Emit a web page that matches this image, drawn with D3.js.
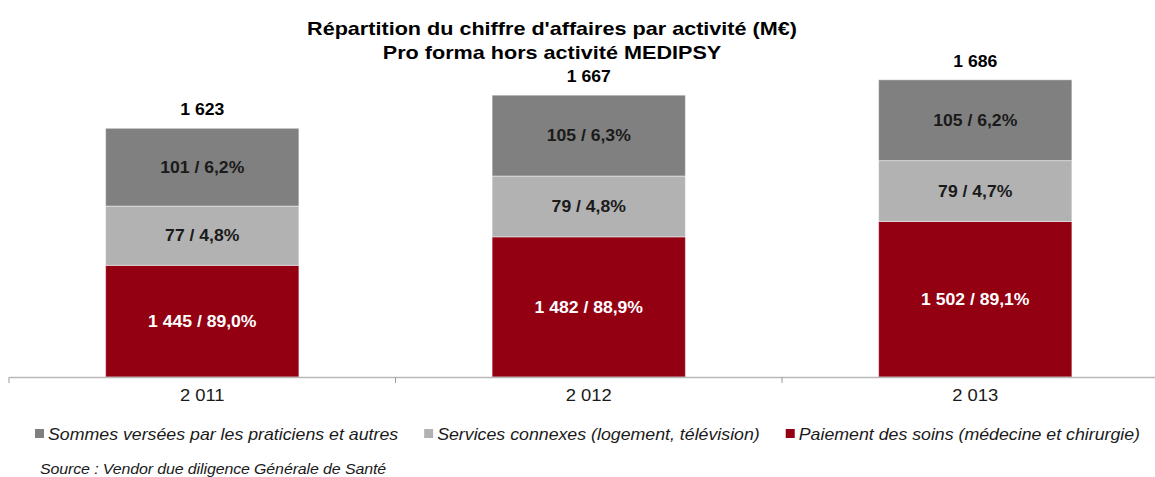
<!DOCTYPE html>
<html>
<head>
<meta charset="utf-8">
<script src="https://cdn.jsdelivr.net/npm/d3@7"></script>
<style>
  body { margin: 0; background: #fff; }
  text { font-family: Arial, "Liberation Sans", sans-serif; }
</style>
</head>
<body>
<div id="chart"></div>
<script>
// chart data
const years = ['2011', '2012', '2013'];
const yearLabels = ['2 011', '2 012', '2 013'];
const soins = [1445, 1482, 1502];
const services = [77, 79, 79];
const sommes = [101, 105, 105];
const totals = [1623, 1667, 1686];
const soinsPct = ['89,0%', '88,9%', '89,1%'];
const servicesPct = ['4,8%', '4,8%', '4,7%'];
const sommesPct = ['6,2%', '6,3%', '6,2%'];
const seriesNames = [
  'Sommes versées par les praticiens et autres',
  'Services connexes (logement, télévision)',
  'Paiement des soins (médecine et chirurgie)'
];

const svgWidth = 1155;
const svgHeight = 477;
const baseY = 377;
const yMin = 1300;

const fr = d3.formatLocale({decimal: ',', thousands: ' ', grouping: [3], currency: ['', '€']});
const fmt = fr.format(',d');

const svg = d3.select('#chart').append('svg')
  .attr('width', svgWidth)
  .attr('height', svgHeight);

// the original text is a bit wider than Arial, stretch it horizontally
const stretched = (sel, px, py, sx) => sel
  .attr('x', 0).attr('y', 0)
  .attr('transform', `translate(${px}, ${py}) scale(${sx}, 1)`);

// title
svg.append('text')
  .call(stretched, 552, 35, 1.2)
  .attr('text-anchor', 'middle')
  .attr('font-weight', 'bold')
  .attr('font-size', '18px')
  .attr('fill', '#000')
  .text("Répartition du chiffre d'affaires par activité (M€)");
svg.append('text')
  .call(stretched, 552, 59, 1.2)
  .attr('text-anchor', 'middle')
  .attr('font-weight', 'bold')
  .attr('font-size', '18px')
  .attr('fill', '#000')
  .text('Pro forma hors activité MEDIPSY');

// scales
const x = d3.scaleBand()
  .domain(years)
  .range([9, 1168.5])
  .paddingInner(0.5)
  .paddingOuter(0.25);

const y = d3.scaleLinear()
  .domain([yMin, 1800])
  .range([baseY, baseY - 500 * 0.77]);

// stacked segments: soins bottom, services, sommes on top
const rows = years.map((yr, i) => ({
  year: yr,
  soins: soins[i],
  services: services[i],
  sommes: sommes[i]
}));
const keys = ['soins', 'services', 'sommes'];
const colors = {soins: '#930011', services: '#b2b2b2', sommes: '#808080'};
const textColors = {soins: '#ffffff', services: '#1a1a1a', sommes: '#1a1a1a'};
const pcts = {soins: soinsPct, services: servicesPct, sommes: sommesPct};

const stacked = d3.stack().keys(keys)(rows);

const barGroup = svg.append('g');
stacked.forEach(layer => {
  const k = layer.key;
  barGroup.selectAll(null)
    .data(layer)
    .enter()
    .append('rect')
    .attr('x', d => x(d.data.year))
    .attr('width', x.bandwidth())
    .attr('y', d => y(Math.max(d[1], yMin)))
    .attr('height', d => y(Math.max(d[0], yMin)) - y(Math.max(d[1], yMin)))
    .attr('fill', colors[k])
    .attr('stroke', 'rgba(255,255,255,0.45)')
    .attr('stroke-width', 1);

  barGroup.selectAll(null)
    .data(layer)
    .enter()
    .append('text')
    .each(function (d, i) {
      const cx = x(d.data.year) + x.bandwidth() / 2;
      const cy = (y(Math.max(d[0], yMin)) + y(d[1])) / 2;
      d3.select(this).call(stretched, cx, cy, 1.1);
    })
    .attr('dy', '0.35em')
    .attr('text-anchor', 'middle')
    .attr('font-weight', 'bold')
    .attr('font-size', '16px')
    .attr('fill', textColors[k])
    .text((d, i) => `${fmt(d[1] - d[0])} / ${pcts[k][i]}`);
});

// totals above bars
svg.append('g').selectAll('text')
  .data(years)
  .enter()
  .append('text')
  .each(function (d, i) {
    const top = stacked[stacked.length - 1][i][1];
    d3.select(this).call(stretched, x(d) + x.bandwidth() / 2, y(top) - 13, 1.1);
  })
  .attr('text-anchor', 'middle')
  .attr('font-weight', 'bold')
  .attr('font-size', '16px')
  .attr('fill', '#000')
  .text((d, i) => fmt(totals[i]));

// x axis
const xAxis = svg.append('g')
  .attr('transform', `translate(0, ${baseY})`)
  .call(d3.axisBottom(x).tickSize(0).tickPadding(13).tickFormat((d, i) => yearLabels[i]));
xAxis.select('.domain').attr('stroke', '#b8b8b8').attr('stroke-width', 1.3);
xAxis.selectAll('.tick text')
  .attr('font-size', '16px')
  .attr('font-family', 'Arial, "Liberation Sans", sans-serif')
  .attr('fill', '#1a1a1a')
  .attr('transform', 'scale(1.15, 1)');

// category boundary ticks
const bounds = d3.range(years.length + 1).map(i => x.range()[0] + i * x.step());
svg.append('g').selectAll('line')
  .data(bounds)
  .enter()
  .append('line')
  .attr('x1', d => d).attr('x2', d => d)
  .attr('y1', baseY).attr('y2', baseY + 6)
  .attr('stroke', '#9a9a9a')
  .attr('stroke-width', 1);

// legend
const legendColors = [colors.sommes, colors.services, colors.soins];
const legend = svg.append('g').attr('transform', 'translate(35, 434)');
let lx = 0;
seriesNames.forEach((name, i) => {
  const item = legend.append('g').attr('transform', `translate(${lx}, 0)`);
  item.append('rect')
    .attr('x', 0).attr('y', -5)
    .attr('width', 9).attr('height', 9)
    .attr('fill', legendColors[i]);
  const t = item.append('text')
    .call(stretched, 13, 0, 1.11)
    .attr('dy', '0.35em')
    .attr('font-size', '16px')
    .attr('font-style', 'italic')
    .attr('fill', '#1a1a1a')
    .text(name);
  lx += 13 + t.node().getComputedTextLength() * 1.11 + 26;
});

// source
svg.append('text')
  .call(stretched, 40, 474, 1.14)
  .attr('font-size', '14px')
  .attr('font-style', 'italic')
  .attr('fill', '#1a1a1a')
  .attr('letter-spacing', '-0.1px')
  .text('Source : Vendor due diligence Générale de Santé');
</script>
</body>
</html>
